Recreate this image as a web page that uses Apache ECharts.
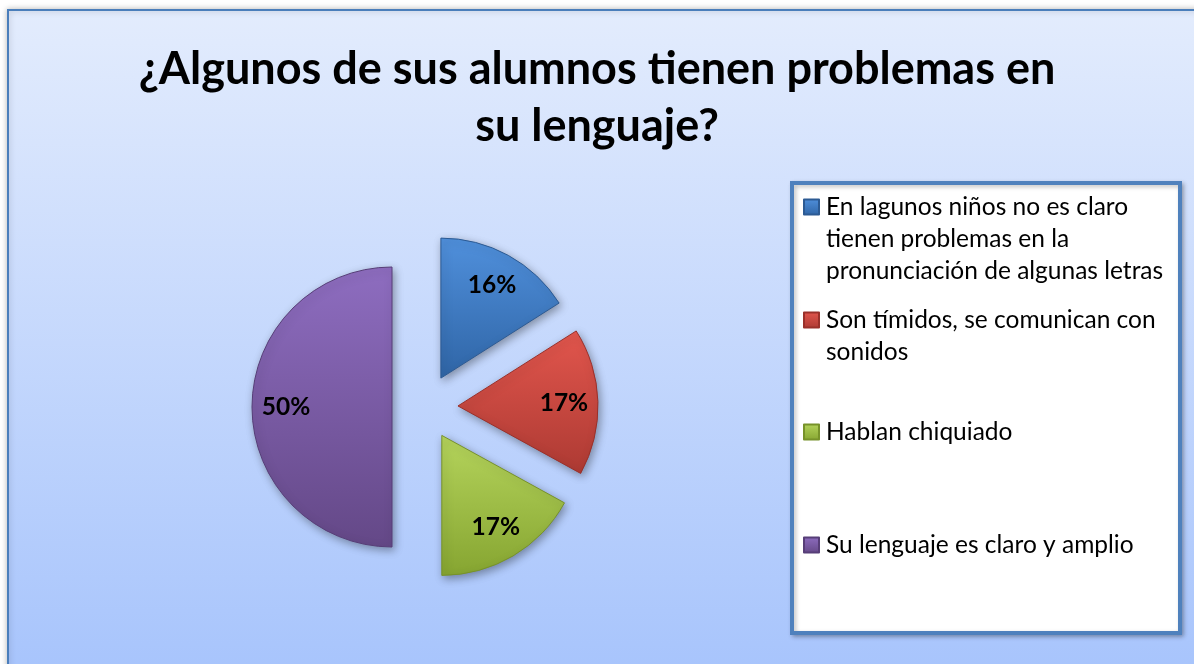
<!DOCTYPE html>
<html>
<head>
<meta charset="utf-8">
<script src="https://cdn.jsdelivr.net/npm/echarts@6/dist/echarts.min.js"></script>
<style>
  html, body { margin: 0; padding: 0; background: #fff; }
  #chart { width: 1194px; height: 664px; }
</style>
</head>
<body>
<div id="chart"></div>
<script>
// datos de la gráfica
const categories = [
  "En lagunos niños no es claro tienen problemas en la pronunciación de algunas letras",
  "Son tímidos, se comunican con sonidos",
  "Hablan chiquiado",
  "Su lenguaje es claro y amplio"
];
const percentages = [16, 17, 17, 50];
// texto de la leyenda ya partido en líneas
const legendLabels = [
  "En lagunos niños no es claro\ntienen problemas en la\npronunciación de algunas letras",
  "Son tímidos, se comunican con\nsonidos",
  "Hablan chiquiado",
  "Su lenguaje es claro y amplio"
];
const titleText = "¿Algunos de sus alumnos tienen problemas en\nsu lenguaje?";

// colores tipo Office 2007
const topColors = ["#5090dc", "#e2564d", "#b5d45c", "#8e6dc0"];
const bottomColors = ["#2f65a6", "#ad3a33", "#86a531", "#644887"];
const borderColors = ["#2c5a93", "#9a302a", "#77922a", "#573e78"];

let chartDom = document.getElementById("chart");
let myChart = echarts.init(chartDom);

const FONT = "Lato, 'Open Sans', sans-serif";
const LINE_H = 32;

function grad(i) {
  return new echarts.graphic.LinearGradient(0, 0, 0, 1, [
    { offset: 0, color: topColors[i] },
    { offset: 1, color: bottomColors[i] }
  ]);
}

let pieData = categories.map((name, i) => ({
  name: name,
  value: percentages[i],
  selected: true,
  itemStyle: { color: grad(i), borderColor: borderColors[i] }
}));

// una leyenda por elemento, así el icono queda en la primera línea
let legendTops = [207, 320, 432, 545];
let legends = categories.map((name, i) => {
  let lines = legendLabels[i].split("\n").length;
  let pad = "\n".repeat(lines - 1);
  let total = (2 * lines - 1) * LINE_H;
  return {
    data: [name],
    orient: "vertical",
    left: 803,
    top: legendTops[i] - total / 2,
    padding: 0,
    itemWidth: 15,
    itemHeight: 15,
    itemGap: 0,
    icon: "rect",
    selectedMode: false,
    formatter: () => pad + legendLabels[i],
    textStyle: {
      fontFamily: FONT,
      fontSize: 24.5,
      lineHeight: LINE_H,
      color: "#000",
      padding: [0, 0, 0, 2]
    }
  };
});

let option = {
  animation: false,
  graphic: [
    {
      type: "rect",
      z: -10,
      shape: { x: 8, y: 10, width: 1200, height: 700 },
      style: {
        fill: new echarts.graphic.LinearGradient(0, 0, 0, 1, [
          { offset: 0, color: "#e3ecfd" },
          { offset: 1, color: "#a4c2fc" }
        ]),
        stroke: "#4a7ebb",
        lineWidth: 2,
        shadowBlur: 6,
        shadowColor: "rgba(0,0,0,0.25)"
      }
    },
    {
      type: "rect",
      z: -5,
      shape: { x: 792, y: 183, width: 388, height: 450 },
      style: {
        fill: "#fff",
        stroke: "#4f81bd",
        lineWidth: 4,
        shadowBlur: 4,
        shadowOffsetX: 2,
        shadowOffsetY: 2,
        shadowColor: "rgba(0,0,0,0.25)"
      }
    }
  ],
  title: {
    text: titleText,
    left: "center",
    top: 36,
    textStyle: {
      fontFamily: FONT,
      fontWeight: "bold",
      fontSize: 45,
      lineHeight: 57,
      color: "#000"
    }
  },
  legend: legends,
  series: [
    {
      type: "pie",
      center: [425, 407],
      radius: [0, 140],
      startAngle: 90,
      selectedMode: "multiple",
      selectedOffset: 33,
      data: pieData,
      label: { show: false },
      labelLine: { show: false },
      itemStyle: {
        borderWidth: 1,
        shadowBlur: 8,
        shadowOffsetX: 2,
        shadowOffsetY: 3,
        shadowColor: "rgba(0,0,0,0.35)"
      },
      select: { itemStyle: {} },
      emphasis: { disabled: true }
    },
    {
      // serie invisible solo para colocar las etiquetas
      type: "pie",
      silent: true,
      center: [425, 407],
      radius: [66, 140],
      startAngle: 90,
      selectedMode: "multiple",
      selectedOffset: 33,
      data: categories.map((name, i) => ({ name: name, value: percentages[i], selected: true })),
      itemStyle: { color: "rgba(0,0,0,0)" },
      label: {
        show: true,
        position: "inside",
        formatter: "{c}%",
        fontFamily: FONT,
        fontWeight: "bold",
        fontSize: 24.5,
        color: "#000"
      },
      labelLine: { show: false },
      emphasis: { disabled: true }
    }
  ]
};

myChart.setOption(option);
</script>
</body>
</html>
